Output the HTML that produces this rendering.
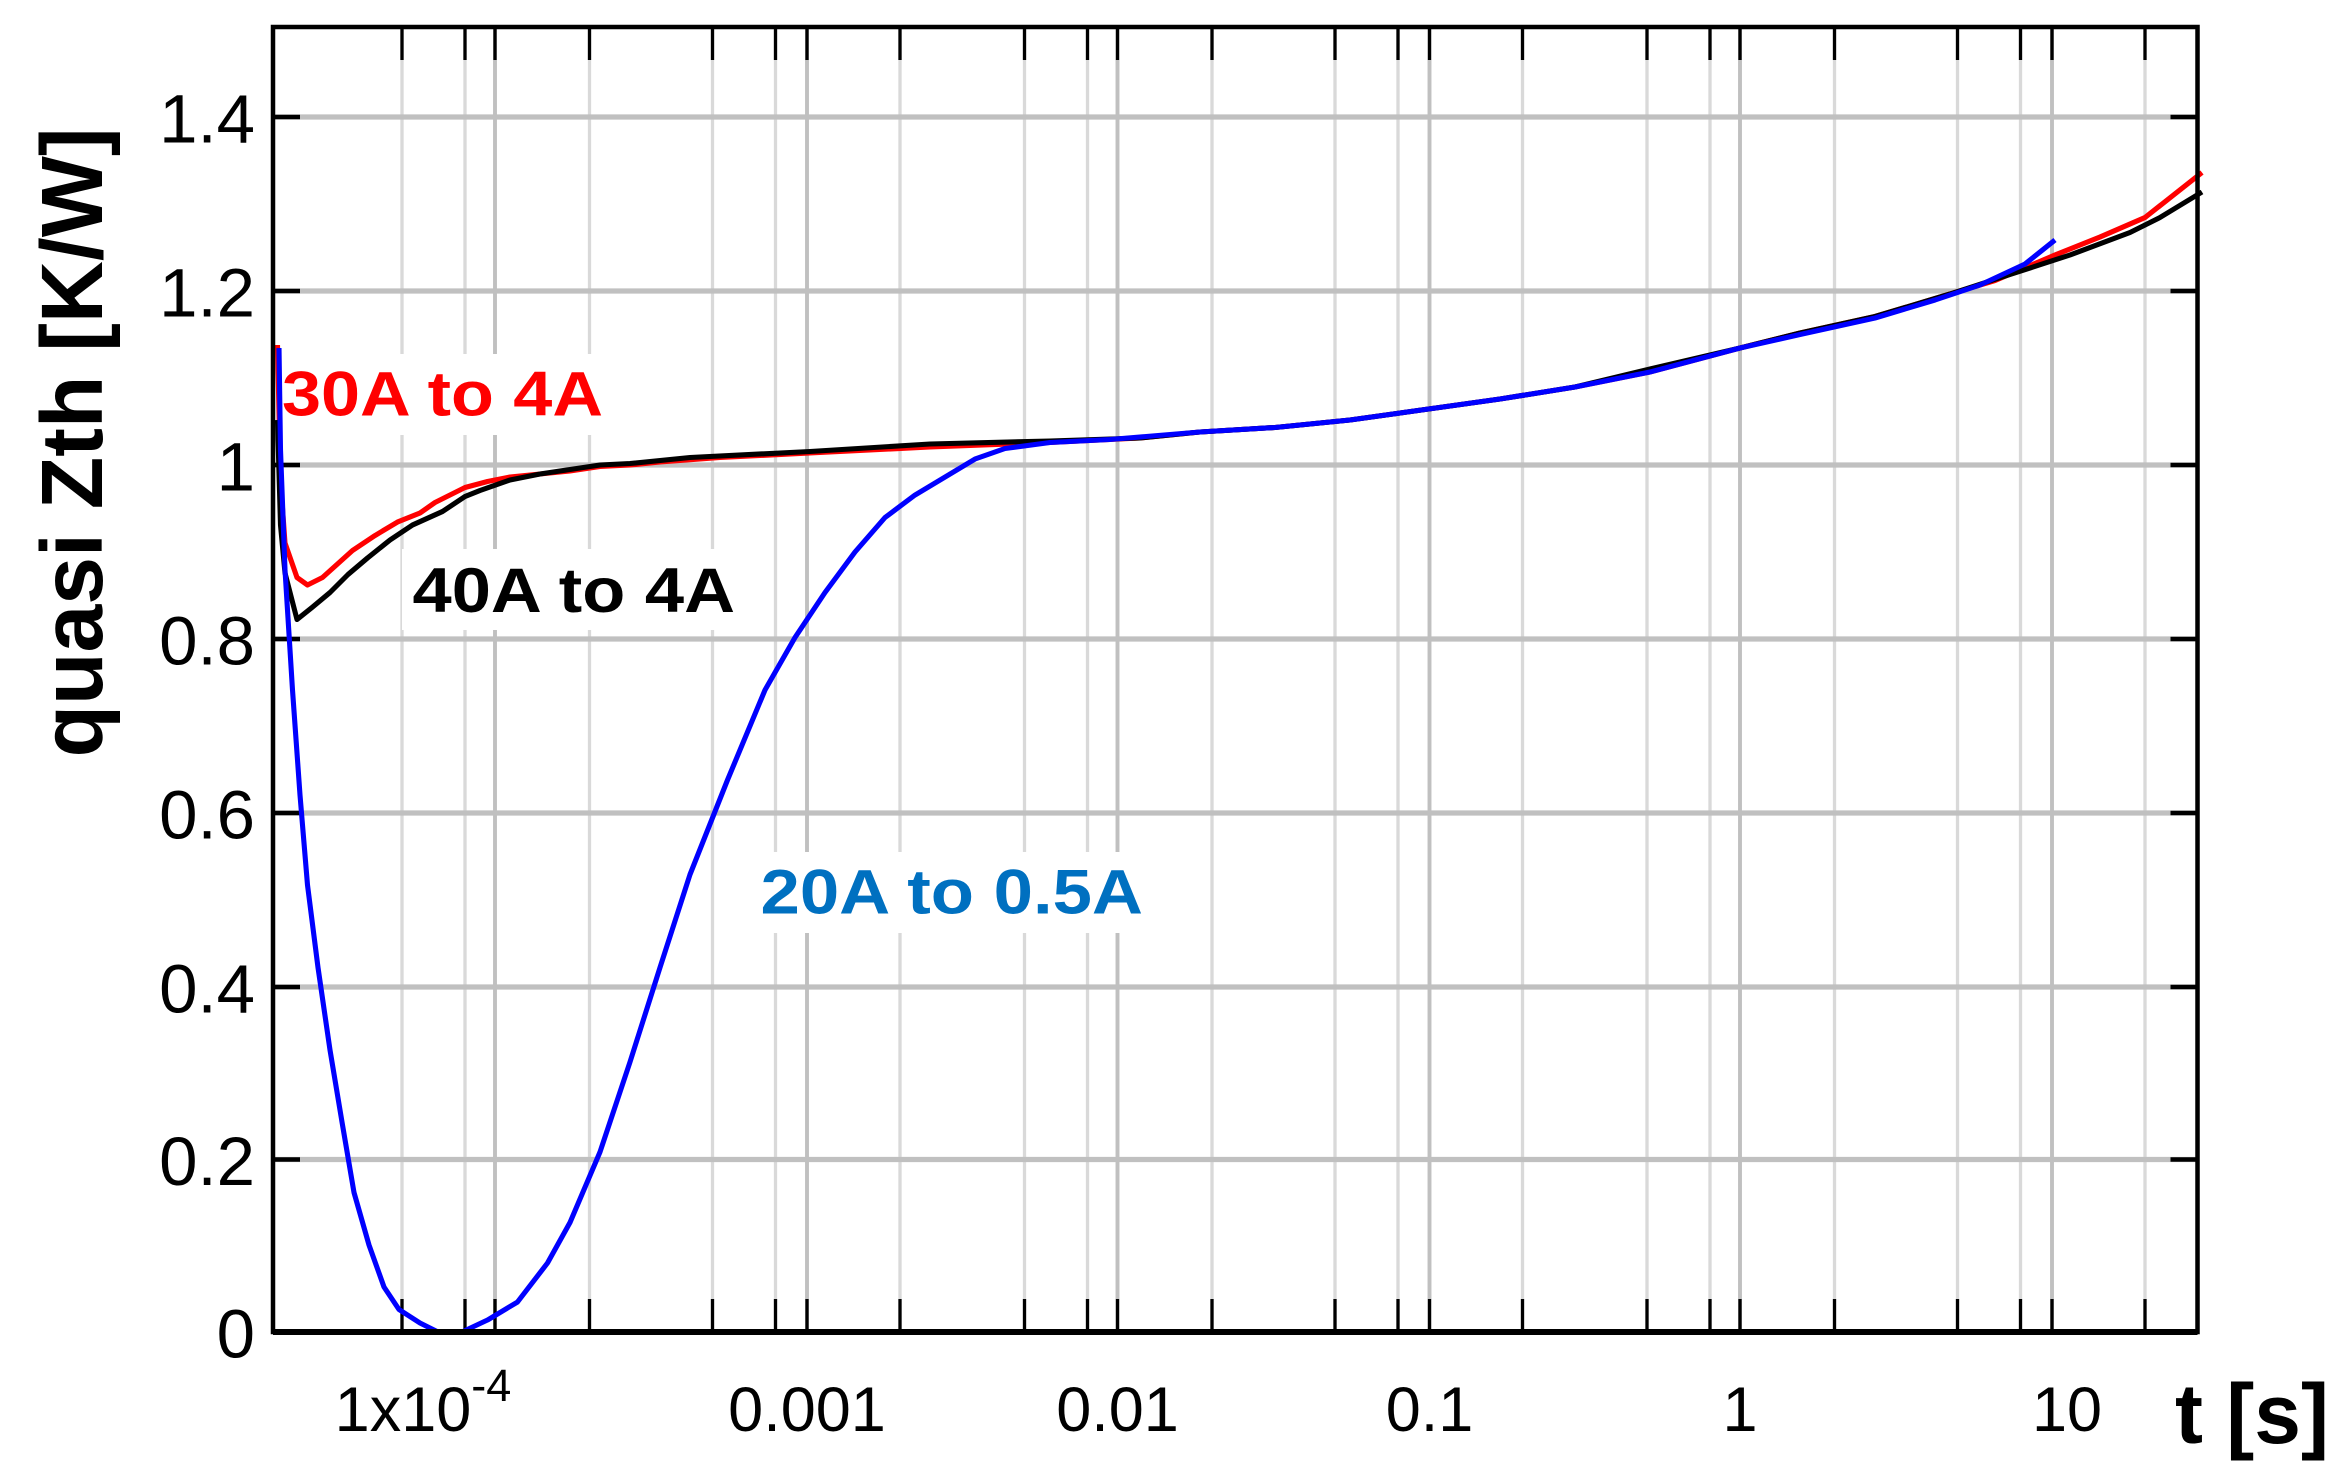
<!DOCTYPE html>
<html><head><meta charset="utf-8"><style>html,body{margin:0;padding:0;background:#fff}svg{display:block}</style></head>
<body>
<svg width="2339" height="1484" viewBox="0 0 1559.33 989.33" xmlns="http://www.w3.org/2000/svg" font-family="'Liberation Sans', Arial, sans-serif">
<rect width="1560" height="990" fill="#fff"/>
<g id="grid">
<g stroke="#d9d9d9" stroke-width="2.2">
<line x1="268" y1="18" x2="268" y2="888"/><line x1="310" y1="18" x2="310" y2="888"/><line x1="393" y1="18" x2="393" y2="888"/>
<line x1="475" y1="18" x2="475" y2="888"/><line x1="517" y1="18" x2="517" y2="888"/><line x1="600" y1="18" x2="600" y2="888"/>
<line x1="683" y1="18" x2="683" y2="888"/><line x1="725" y1="18" x2="725" y2="888"/><line x1="808" y1="18" x2="808" y2="888"/>
<line x1="890" y1="18" x2="890" y2="888"/><line x1="932" y1="18" x2="932" y2="888"/><line x1="1015" y1="18" x2="1015" y2="888"/>
<line x1="1098" y1="18" x2="1098" y2="888"/><line x1="1140" y1="18" x2="1140" y2="888"/><line x1="1223" y1="18" x2="1223" y2="888"/>
<line x1="1305" y1="18" x2="1305" y2="888"/><line x1="1347" y1="18" x2="1347" y2="888"/><line x1="1430" y1="18" x2="1430" y2="888"/>
</g>
<g stroke="#c0c0c0" stroke-width="2.6">
<line x1="330" y1="18" x2="330" y2="888"/><line x1="538" y1="18" x2="538" y2="888"/><line x1="745" y1="18" x2="745" y2="888"/>
<line x1="953" y1="18" x2="953" y2="888"/><line x1="1160" y1="18" x2="1160" y2="888"/><line x1="1368" y1="18" x2="1368" y2="888"/>
</g>
<g stroke="#c0c0c0" stroke-width="3.5">
<line x1="182" y1="78" x2="1465" y2="78"/><line x1="182" y1="194" x2="1465" y2="194"/><line x1="182" y1="310" x2="1465" y2="310"/>
<line x1="182" y1="426" x2="1465" y2="426"/><line x1="182" y1="542" x2="1465" y2="542"/><line x1="182" y1="658" x2="1465" y2="658"/>
<line x1="182" y1="773" x2="1465" y2="773"/>
</g>
</g>
<g fill="#fff">
<rect x="186" y="236" width="222" height="54"/>
<rect x="268" y="366" width="228" height="54"/>
<rect x="500" y="568" width="268" height="54"/>
</g>
<g stroke="#000" stroke-width="3">
<line x1="182" y1="78" x2="200" y2="78"/><line x1="182" y1="194" x2="200" y2="194"/><line x1="182" y1="310" x2="200" y2="310"/>
<line x1="182" y1="426" x2="200" y2="426"/><line x1="182" y1="542" x2="200" y2="542"/><line x1="182" y1="658" x2="200" y2="658"/>
<line x1="182" y1="773" x2="200" y2="773"/>
<line x1="1465" y1="78" x2="1447" y2="78"/><line x1="1465" y1="194" x2="1447" y2="194"/><line x1="1465" y1="310" x2="1447" y2="310"/>
<line x1="1465" y1="426" x2="1447" y2="426"/><line x1="1465" y1="542" x2="1447" y2="542"/><line x1="1465" y1="658" x2="1447" y2="658"/>
<line x1="1465" y1="773" x2="1447" y2="773"/>
</g>
<g stroke="#000" stroke-width="2.2">
<path d="M268 888v-22M310 888v-22M330 888v-22M393 888v-22M475 888v-22M517 888v-22M538 888v-22M600 888v-22M683 888v-22M725 888v-22M745 888v-22M808 888v-22M890 888v-22M932 888v-22M953 888v-22M1015 888v-22M1098 888v-22M1140 888v-22M1160 888v-22M1223 888v-22M1305 888v-22M1347 888v-22M1368 888v-22M1430 888v-22"/>
<path d="M268 18v22M310 18v22M330 18v22M393 18v22M475 18v22M517 18v22M538 18v22M600 18v22M683 18v22M725 18v22M745 18v22M808 18v22M890 18v22M932 18v22M953 18v22M1015 18v22M1098 18v22M1140 18v22M1160 18v22M1223 18v22M1305 18v22M1347 18v22M1368 18v22M1430 18v22"/>
</g>
<g fill="none" stroke-width="3.4" stroke-linejoin="round">
<polyline stroke="#ff0000" points="185,230 187,320 190,362 198,385 205,390 215,385 225,376 235,367 250,357 265,348 280,342 290,335 300,330 310,325 325,321 340,318 360,316 380,314 400,311 420,310 440,308 480,305 540,302 620,298 700,295 760,292 800,288 850,285 900,280 950,273 1000,266 1050,258 1100,248 1160,232 1200,222 1250,211 1300,196 1330,187 1370,170 1400,158 1430,145 1468,115"/>
<polyline stroke="#000" points="185,280 187,350 190,382 198,413 208,405 220,395 232,383 245,372 260,360 275,350 295,341 310,331 320,327 340,320 360,316 380,313 400,310 420,309 460,305 540,301 620,296 700,294 760,292 800,288 850,285 900,280 950,273 1000,266 1050,258 1100,246 1160,232 1200,222 1250,211 1300,196 1340,183 1380,170 1420,155 1440,145 1468,128"/>
<polyline stroke="#0000ff" points="186,232 187,300 190,380 195,460 200,530 205,590 212,645 220,700 228,748 236,795 246,830 256,858 266,873 280,882 292,888 308,888 325,880 345,868 365,842 380,815 400,768 420,708 440,645 460,583 485,520 510,460 530,425 550,395 570,368 590,345 610,330 630,318 650,306 670,299 700,295 740,293 800,288 850,285 900,280 950,273 1000,266 1050,258 1100,248 1160,232 1200,223 1250,212 1290,200 1320,190 1350,176 1370,160"/>
</g>
<rect x="182" y="18" width="1283" height="870" fill="none" stroke="#000" stroke-width="3"/>
<line x1="182" y1="888" x2="1465" y2="888" stroke="#000" stroke-width="4"/>
<g font-weight="bold" font-size="42">
<text x="188" y="277" fill="#ff0000" textLength="214" lengthAdjust="spacingAndGlyphs">30A to 4A</text>
<text x="275" y="408" fill="#000" textLength="215" lengthAdjust="spacingAndGlyphs">40A to 4A</text>
<text x="507" y="609" fill="#0070c0" textLength="255" lengthAdjust="spacingAndGlyphs">20A to 0.5A</text>
</g>
<g font-size="46" text-anchor="end" fill="#000">
<text x="170" y="95">1.4</text><text x="170" y="211">1.2</text><text x="170" y="327">1</text>
<text x="170" y="443">0.8</text><text x="170" y="559">0.6</text><text x="170" y="675">0.4</text>
<text x="170" y="790">0.2</text><text x="170" y="905">0</text>
</g>
<g font-size="42" text-anchor="middle" fill="#000">
<text x="282" y="954">1x10<tspan font-size="30" dy="-20">-4</tspan></text>
<text x="538" y="954">0.001</text><text x="745" y="954">0.01</text><text x="953" y="954">0.1</text>
<text x="1160" y="954">1</text><text x="1378" y="954">10</text>
</g>
<text x="1450" y="962" font-size="56" font-weight="bold">t [s]</text>
<text transform="translate(68,295) rotate(-90)" font-size="58" font-weight="bold" text-anchor="middle" textLength="420" lengthAdjust="spacingAndGlyphs">quasi Zth [K/W]</text>
</svg>
</body></html>
